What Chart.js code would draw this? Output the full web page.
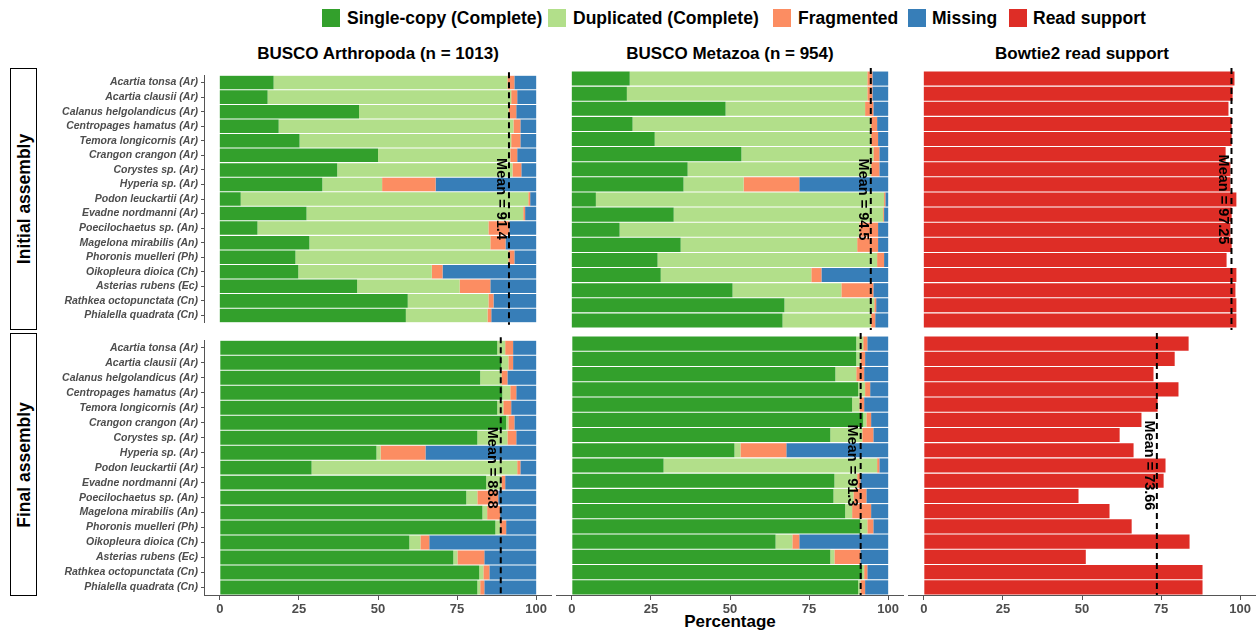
<!DOCTYPE html>
<html>
<head>
<meta charset="utf-8">
<script src="https://cdn.jsdelivr.net/npm/chart.js@4.4.0/dist/chart.umd.min.js"></script>
<style>
  body { margin:0; width:1260px; height:634px; background:#fff; position:relative; overflow:hidden; font-family:"Liberation Sans", Arial, sans-serif; }
  canvas { position:absolute; }
  .sq { position:absolute; top:9px; width:18px; height:18px; }
  .lt { position:absolute; top:8px; font-weight:bold; font-size:17.5px; line-height:20px; color:#000; white-space:nowrap; }
  .title { position:absolute; top:44px; width:348px; text-align:center; font-weight:bold; font-size:17px; line-height:20px; }
  .strip { position:absolute; left:10px; width:27px; border:1px solid #000; box-sizing:border-box; }
  .strip span { position:absolute; left:50%; top:50%; transform:translate(-50%,-50%) rotate(-90deg); font-weight:bold; font-size:17.5px; white-space:nowrap; }
</style>
</head>
<body>

<div class="sq" style="left:322px;background:#33a02c"></div><div class="lt" style="left:347px">Single-copy (Complete)</div>
<div class="sq" style="left:548px;background:#b2df8a"></div><div class="lt" style="left:573px">Duplicated (Complete)</div>
<div class="sq" style="left:773px;background:#fc8d62"></div><div class="lt" style="left:798px">Fragmented</div>
<div class="sq" style="left:908px;background:#377eb8"></div><div class="lt" style="left:932px">Missing</div>
<div class="sq" style="left:1009px;background:#de2d26"></div><div class="lt" style="left:1033px">Read support</div>

<div class="title" style="left:204px">BUSCO Arthropoda (n = 1013)</div>
<div class="title" style="left:556px">BUSCO Metazoa (n = 954)</div>
<div class="title" style="left:908px">Bowtie2 read support</div>

<div class="strip" style="top:68px;height:262px"><span>Initial assembly</span></div>
<div class="strip" style="top:333px;height:263px"><span>Final assembly</span></div>

<div class="title" style="left:556px;top:612px">Percentage</div>

<canvas id="c1" width="512" height="266" style="left:40px;top:66px"></canvas>
<canvas id="c2" width="348" height="266" style="left:556px;top:66px"></canvas>
<canvas id="c3" width="348" height="266" style="left:908px;top:66px"></canvas>
<canvas id="c4" width="512" height="303" style="left:40px;top:331px"></canvas>
<canvas id="c5" width="348" height="303" style="left:556px;top:331px"></canvas>
<canvas id="c6" width="348" height="303" style="left:908px;top:331px"></canvas>

<script>
const species = [
  "Acartia tonsa (Ar)", "Acartia clausii (Ar)", "Calanus helgolandicus (Ar)", "Centropages hamatus (Ar)",
  "Temora longicornis (Ar)", "Crangon crangon (Ar)", "Corystes sp. (Ar)", "Hyperia sp. (Ar)",
  "Podon leuckartii (Ar)", "Evadne nordmanni (Ar)", "Poecilochaetus sp. (An)", "Magelona mirabilis (An)",
  "Phoronis muelleri (Ph)", "Oikopleura dioica (Ch)", "Asterias rubens (Ec)", "Rathkea octopunctata (Cn)",
  "Phialella quadrata (Cn)"
];
const xTicks = [0, 25, 50, 75, 100];

// BUSCO Arthropoda, initial assembly
const arthInitSingle = [17.0, 15.1, 44.0, 18.6, 25.2, 50.0, 37.1, 32.4, 6.6, 27.4, 11.9, 28.3, 23.9, 24.8, 43.4, 59.4, 58.8];
const arthInitDup    = [73.9, 77.0, 47.3, 74.2, 66.9, 41.8, 55.4, 18.9, 90.9, 68.5, 73.0, 57.2, 67.3, 42.2, 32.4, 25.5, 25.8];
const arthInitFrag   = [2.2, 1.9, 2.4, 2.2, 2.9, 2.2, 2.8, 16.9, 0.6, 0.6, 6.6, 4.8, 1.9, 3.4, 9.7, 1.6, 1.2];
const arthInitMiss   = [6.9, 6.0, 6.3, 5.0, 5.0, 6.0, 4.7, 31.8, 1.9, 3.5, 8.5, 9.7, 6.9, 29.6, 14.5, 13.5, 14.2];

// BUSCO Metazoa, initial assembly
const metaInitSingle = [18.3, 17.4, 48.6, 19.2, 26.2, 53.6, 36.6, 35.3, 7.6, 32.2, 15.1, 34.4, 27.1, 28.1, 50.8, 67.2, 66.6];
const metaInitDup    = [75.1, 76.0, 44.1, 75.4, 68.4, 41.7, 58.0, 19.0, 91.1, 66.2, 75.8, 55.8, 69.4, 47.6, 34.4, 28.4, 28.0];
const metaInitFrag   = [1.6, 1.6, 2.6, 1.9, 2.2, 1.9, 2.6, 17.6, 0.4, 0.3, 5.9, 6.6, 2.2, 3.2, 10.1, 0.6, 1.3];
const metaInitMiss   = [5.0, 5.0, 4.7, 3.5, 3.2, 2.8, 2.8, 28.1, 0.9, 1.3, 3.2, 3.2, 1.3, 21.1, 4.7, 3.8, 4.1];

// BUSCO Arthropoda, final assembly
const arthFinalSingle = [87.7, 89.0, 82.3, 89.3, 87.7, 90.5, 81.4, 49.5, 29.0, 84.2, 77.9, 83.0, 87.1, 59.9, 73.8, 82.0, 81.4];
const arthFinalDup    = [2.5, 2.2, 6.7, 2.5, 1.9, 0.7, 9.5, 1.3, 65.0, 4.8, 3.5, 1.5, 1.5, 3.5, 1.3, 1.3, 0.9];
const arthFinalFrag   = [2.5, 1.5, 1.9, 1.9, 2.5, 1.9, 2.8, 14.2, 1.0, 1.2, 6.6, 4.1, 1.9, 2.8, 8.5, 1.9, 1.3];
const arthFinalMiss   = [7.3, 7.3, 9.1, 6.3, 7.9, 6.9, 6.3, 35.0, 5.0, 9.8, 12.0, 11.4, 9.5, 33.8, 16.4, 14.8, 16.4];

// BUSCO Metazoa, final assembly
const metaFinalSingle = [89.9, 89.9, 83.3, 90.5, 88.6, 92.1, 81.7, 51.4, 29.0, 83.0, 82.7, 86.4, 91.2, 64.4, 81.7, 91.8, 90.5];
const metaFinalDup    = [2.2, 1.3, 6.6, 2.2, 2.3, 1.0, 10.1, 1.9, 67.5, 7.2, 6.3, 2.2, 2.2, 5.3, 1.3, 0.6, 0.7];
const metaFinalFrag   = [1.3, 1.5, 2.5, 1.6, 1.5, 1.5, 3.5, 14.5, 0.7, 1.0, 4.1, 6.0, 1.9, 2.2, 8.2, 1.0, 1.5];
const metaFinalMiss   = [6.6, 7.3, 7.6, 5.7, 7.6, 5.4, 4.7, 32.2, 2.8, 8.8, 6.9, 5.4, 4.7, 28.1, 8.8, 6.6, 7.3];

// Bowtie2 read support
const readInit  = [98.2, 97.6, 96.3, 97.3, 97.3, 95.4, 96.9, 96.9, 98.8, 97.3, 96.9, 97.3, 95.7, 98.8, 98.5, 98.8, 98.8];
const readFinal = [83.7, 79.3, 72.6, 80.5, 73.9, 68.8, 61.9, 66.3, 76.4, 75.8, 48.9, 58.7, 65.7, 84.0, 51.2, 88.1, 88.1];

// means shown on each panel
const meansInit  = [91.4, 94.5, 97.25];
const meansFinal = [88.8, 91.3, 73.66];

const colors = ["#33a02c", "#b2df8a", "#fc8d62", "#377eb8"];
const readColor = "#de2d26";

// dashed mean line + rotated label
const meanLine = {
  id: "meanLine",
  afterDatasetsDraw(chart, args, opts) {
    let ctx = chart.ctx;
    let area = chart.chartArea;
    let x = chart.scales.x.getPixelForValue(opts.value);
    ctx.save();
    ctx.strokeStyle = "#000";
    ctx.lineWidth = 2;
    ctx.setLineDash([6, 4]);
    ctx.beginPath();
    ctx.moveTo(x, area.top - 3);
    ctx.lineTo(x, area.bottom + (opts.bottomRow ? 0 : 2));
    ctx.stroke();
    ctx.setLineDash([]);
    ctx.translate(x - 1, (area.top + area.bottom) / 2);
    ctx.rotate(Math.PI / 2);
    ctx.fillStyle = "#000";
    ctx.font = 'bold 14.5px "Liberation Sans", Arial, sans-serif';
    ctx.textAlign = "center";
    ctx.textBaseline = "top";
    ctx.fillText("Mean = " + opts.value, 0, 0);
    ctx.restore();
  }
};

function buscoSets(single, dup, frag, miss) {
  return [single, dup, frag, miss].map((d, i) => ({
    data: d,
    backgroundColor: colors[i],
    borderWidth: 0,
    barPercentage: 0.93,
    categoryPercentage: 1
  }));
}

function readSets(vals) {
  return [{ data: vals, backgroundColor: readColor, borderWidth: 0, barPercentage: 0.93, categoryPercentage: 1 }];
}

function makePanel(id, datasets, mean, leftCol, bottomRow) {
  new Chart(document.querySelector("#" + id), {
    type: "bar",
    data: { labels: species, datasets: datasets },
    options: {
      indexAxis: "y",
      responsive: false,
      animation: false,
      devicePixelRatio: 1,
      layout: { padding: { top: 5, bottom: bottomRow ? 0 : 4, left: 0, right: 0 } },
      plugins: {
        legend: { display: false },
        tooltip: { enabled: false },
        meanLine: { value: mean, bottomRow: bottomRow }
      },
      scales: {
        x: {
          type: "linear",
          min: -5,
          max: 105,
          stacked: true,
          display: bottomRow,
          afterBuildTicks: (s) => { s.ticks = xTicks.map(v => ({ value: v })); },
          afterFit: (s) => { if (bottomRow) s.height = 39; },
          border: { display: true, color: "#555", width: 1 },
          grid: { drawOnChartArea: false, tickLength: 5, color: "#555" },
          ticks: {
            color: "#4d4d4d",
            padding: 2,
            maxRotation: 0,
            font: { family: '"Liberation Sans", Arial, sans-serif', size: 13, weight: "bold" }
          }
        },
        y: {
          type: "category",
          stacked: true,
          offset: true,
          display: leftCol,
          afterFit: (s) => { if (leftCol) s.width = 164; },
          border: { display: true, color: "#555", width: 1 },
          grid: { drawOnChartArea: false, offset: false, tickLength: 3, color: "#555" },
          ticks: {
            color: "#4d4d4d",
            padding: 3,
            autoSkip: false,
            font: { family: '"Liberation Sans", Arial, sans-serif', size: 10.5, weight: "bold", style: "italic" }
          }
        }
      }
    },
    plugins: [meanLine]
  });
}

makePanel("c1", buscoSets(arthInitSingle, arthInitDup, arthInitFrag, arthInitMiss), meansInit[0], true, false);
makePanel("c2", buscoSets(metaInitSingle, metaInitDup, metaInitFrag, metaInitMiss), meansInit[1], false, false);
makePanel("c3", readSets(readInit), meansInit[2], false, false);
makePanel("c4", buscoSets(arthFinalSingle, arthFinalDup, arthFinalFrag, arthFinalMiss), meansFinal[0], true, true);
makePanel("c5", buscoSets(metaFinalSingle, metaFinalDup, metaFinalFrag, metaFinalMiss), meansFinal[1], false, true);
makePanel("c6", readSets(readFinal), meansFinal[2], false, true);
</script>
</body>
</html>
